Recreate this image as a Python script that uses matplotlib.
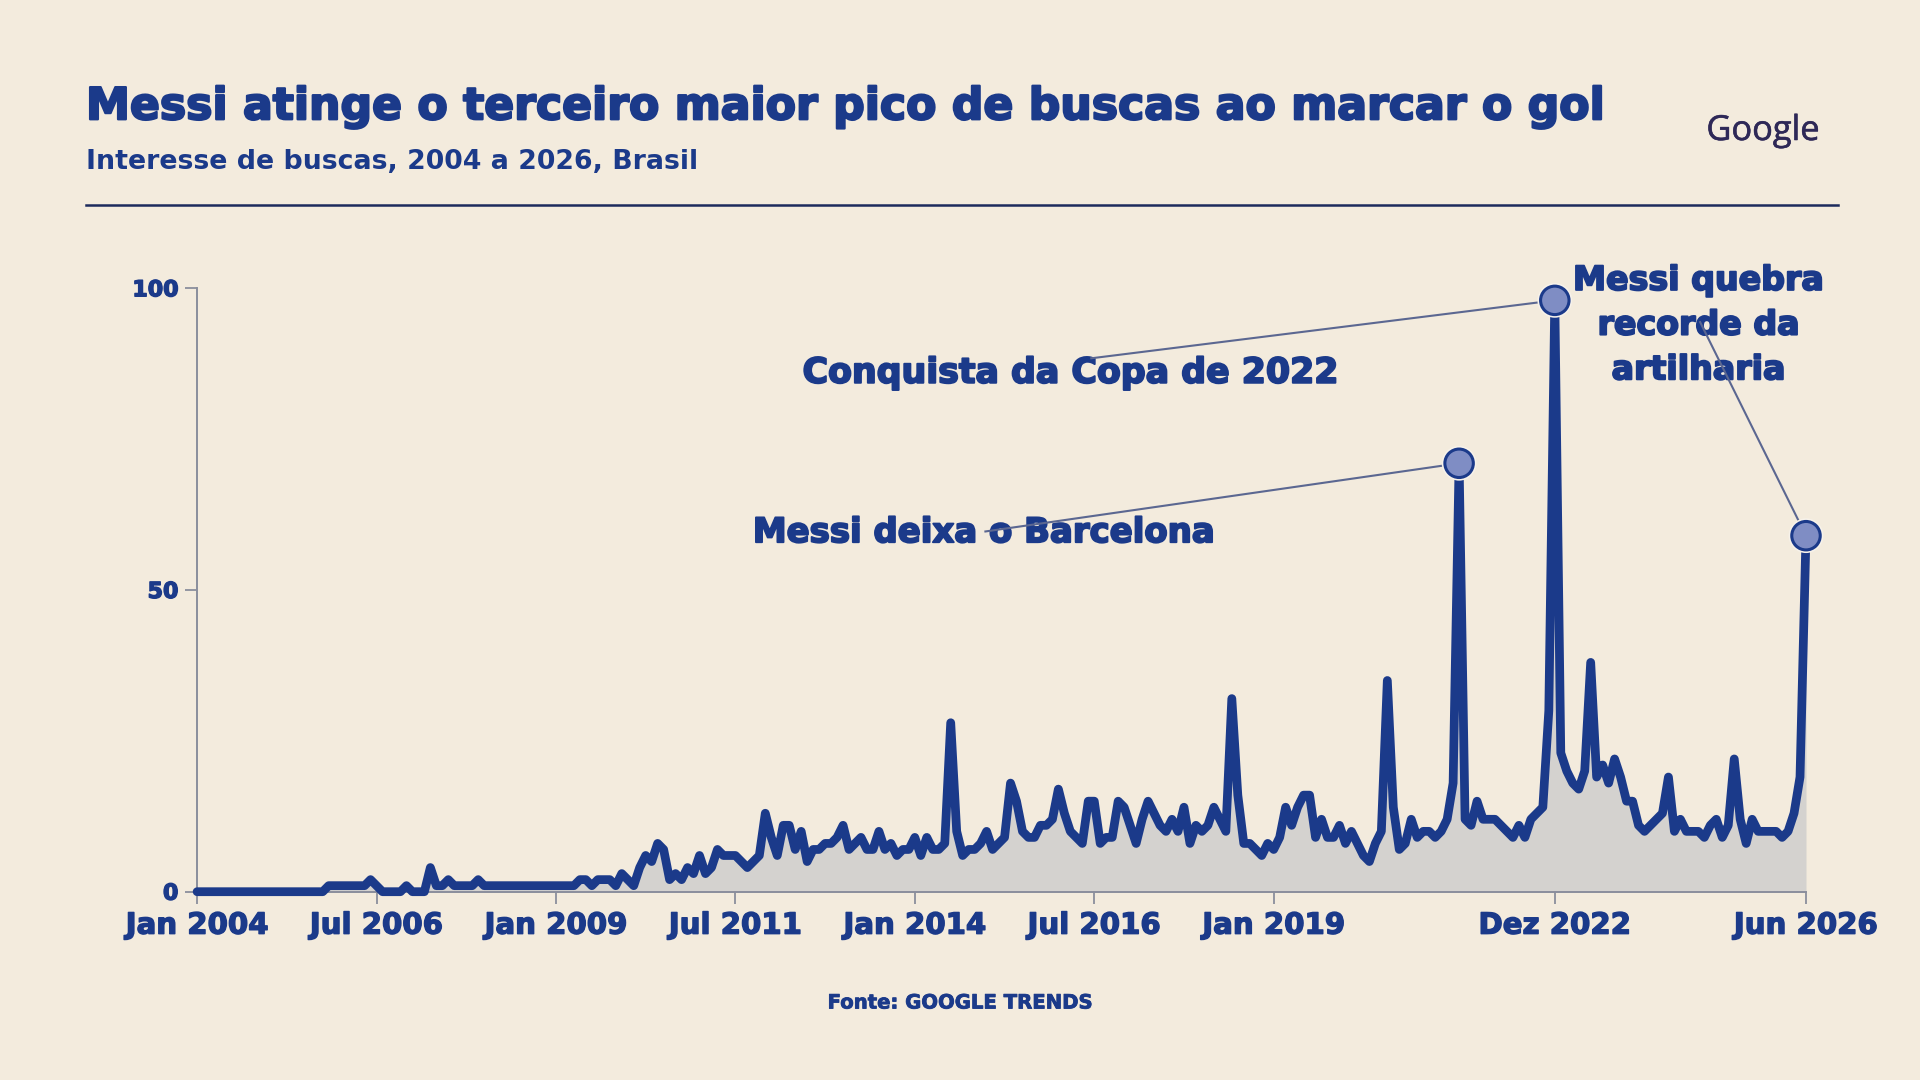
import numpy as np
import matplotlib
matplotlib.use("Agg")
import matplotlib.pyplot as plt
import matplotlib.patheffects as pe

# ---------------- data (monthly Google Trends interest, Brasil) ----------------
v2004 = [0, 0, 0, 0, 0, 0, 0, 0, 0, 0, 0, 0]
v2005 = [0, 0, 0, 0, 0, 0, 0, 0, 0, 0, 1, 1]
v2006 = [1, 1, 1, 1, 1, 2, 1, 0, 0, 0, 0, 1]
v2007 = [0, 0, 0, 4, 1, 1, 2, 1, 1, 1, 1, 2]
v2008 = [1, 1, 1, 1, 1, 1, 1, 1, 1, 1, 1, 1]
v2009 = [1, 1, 1, 1, 2, 2, 1, 2, 2, 2, 1, 3]
v2010 = [2, 1, 4, 6, 5, 8, 7, 2, 3, 2, 4, 3]
v2011 = [6, 3, 4, 7, 6, 6, 6, 5, 4, 5, 6, 13]
v2012 = [9, 6, 11, 11, 7, 10, 5, 7, 7, 8, 8, 9]
v2013 = [11, 7, 8, 9, 7, 7, 10, 7, 8, 6, 7, 7]
v2014 = [9, 6, 9, 7, 7, 8, 28, 10, 6, 7, 7, 8]
v2015 = [10, 7, 8, 9, 18, 15, 10, 9, 9, 11, 11, 12]
v2016 = [17, 13, 10, 9, 8, 15, 15, 8, 9, 9, 15, 14]
v2017 = [11, 8, 12, 15, 13, 11, 10, 12, 10, 14, 8, 11]
v2018 = [10, 11, 14, 12, 10, 32, 16, 8, 8, 7, 6, 8]
v2019 = [7, 9, 14, 11, 14, 16, 16, 9, 12, 9, 9, 11]
v2020 = [8, 10, 8, 6, 5, 8, 10, 35, 14, 7, 8, 12]
v2021 = [9, 10, 10, 9, 10, 12, 18, 71, 12, 11, 15, 12]
v2022 = [12, 12, 11, 10, 9, 11, 9, 12, 13, 14, 30, 98]
v2023 = [23, 20, 18, 17, 20, 38, 19, 21, 18, 22, 19, 15]
v2024 = [15, 11, 10, 11, 12, 13, 19, 10, 12, 10, 10, 10]
v2025 = [9, 11, 12, 9, 11, 22, 12, 8, 12, 10, 10, 10]
v2026 = [10, 9, 10, 13, 19, 59]

values = np.array(v2004 + v2005 + v2006 + v2007 + v2008 + v2009 + v2010 + v2011
                  + v2012 + v2013 + v2014 + v2015 + v2016 + v2017 + v2018 + v2019
                  + v2020 + v2021 + v2022 + v2023 + v2024 + v2025 + v2026, dtype=float)
months = np.arange(len(values))

# x tick labels (year, month)
tick_dates = [(2004, 1), (2006, 7), (2009, 1), (2011, 7), (2014, 1),
              (2016, 7), (2019, 1), (2022, 12), (2026, 6)]
tick_labels = ["Jan 2004", "Jul 2006", "Jan 2009", "Jul 2011", "Jan 2014",
               "Jul 2016", "Jan 2019", "Dez 2022", "Jun 2026"]
y_ticks = [0, 50, 100]

# annotated events (year, month)
event_dates = [(2021, 8), (2022, 12), (2026, 6)]
event_texts = ["Messi deixa o Barcelona", "Conquista da Copa de 2022",
               "Messi quebra\nrecorde da\nartilharia"]

def midx(y, m):
    return (y - 2004) * 12 + (m - 1)

# ---------------- style ----------------
BG = "#f3ebdd"
NAVY = "#1b3a8a"
AXIS = "#8a8e9c"
CONN = "#5b6791"
FILL = "#d4d2cf"
MFACE = "#7f8dc4"
FONT = ["DejaVu Sans"]

def heavy(w):
    return [pe.withStroke(linewidth=w, foreground=NAVY)]

W, H = 1920, 1080
fig = plt.figure(figsize=(W / 100, H / 100), dpi=100, facecolor=BG)
renderer = fig.canvas.get_renderer()

def fit_width(t, target):
    w = t.get_window_extent(renderer=renderer).width
    t.set_fontsize(t.get_fontsize() * target / w)

# header
title = fig.text(86 / W, 1 - 119.3 / H,
                 "Messi atinge o terceiro maior pico de buscas ao marcar o gol",
                 ha="left", va="baseline", color=NAVY, fontsize=30,
                 fontweight="bold", family=FONT, path_effects=heavy(1.6))
fit_width(title, 1516)
sub = fig.text(86 / W, 1 - 169.3 / H, "Interesse de buscas, 2004 a 2026, Brasil",
               ha="left", va="baseline", color=NAVY, fontsize=18,
               fontweight="bold", family=FONT)
fit_width(sub, 612)
goog = fig.text(1763 / W, 1 - 131 / H, "Google", ha="center", va="center",
                color="#2e2857", fontsize=20, fontweight="medium",
                family=["Open Sans", "DejaVu Sans"],
                path_effects=[pe.withStroke(linewidth=0.4, foreground="#2e2857")])
fit_width(goog, 113)
fig.add_artist(plt.Line2D([86 / W, 1838 / W], [1 - 204.5 / H, 1 - 204.5 / H],
                          color="#1c2a5c", lw=1.8))
foot = fig.text(960 / W, 1 - 1003 / H, "Fonte: GOOGLE TRENDS", ha="center",
                va="center", color=NAVY, fontsize=14, fontweight="bold",
                family=FONT, path_effects=heavy(0.6))
fit_width(foot, 266)

# axes
x0, x1 = 197.1, 1806.0
y0, y1 = 891.7, 288.3
ax = fig.add_axes([x0 / W, 1 - y0 / H, (x1 - x0) / W, (y0 - y1) / H])
ax.set_facecolor("none")
ax.set_xlim(0, len(values) - 1)
ax.set_ylim(0, 100)

ax.fill_between(months, 0, values, color=FILL, lw=0, zorder=2, clip_on=False)
ax.plot(months, values, color=NAVY, lw=6.3, solid_joinstyle="round",
        solid_capstyle="round", zorder=3, clip_on=False)

for s in ["top", "right"]:
    ax.spines[s].set_visible(False)
for s in ["left", "bottom"]:
    ax.spines[s].set_color(AXIS)
    ax.spines[s].set_linewidth(1.4)

ax.set_xticks([midx(y, m) for y, m in tick_dates], tick_labels)
ax.set_yticks(y_ticks, [str(v) for v in y_ticks])
ax.tick_params(axis="x", direction="out", length=8.6, width=1.3, color=AXIS,
               pad=5.8, labelcolor=NAVY, labelsize=20)
ax.tick_params(axis="y", direction="out", length=8.6, width=1.3, color=AXIS,
               pad=5, labelcolor=NAVY, labelsize=14)
for lab in ax.get_xticklabels() + ax.get_yticklabels():
    lab.set_fontweight("bold")
    lab.set_family(FONT)
    lab.set_path_effects(heavy(1.0))

fig.canvas.draw()
xl = ax.get_xticklabels()[0]
ax.tick_params(axis="x", labelsize=20 * 143 / xl.get_window_extent(renderer).width)
yl = ax.get_yticklabels()[-1]
ax.tick_params(axis="y", labelsize=14 * 46 / yl.get_window_extent(renderer).width)

# annotations
text_pos = [(131.5, 59.5), (146.0, 86.0), (251.0, 93.9)]
line_start = [(131.8, 59.7), (149.5, 88.4), (251.3, 94.4)]
text_widths = [462, 536, 251]
for (ey, em), txt, tp, ls, tw in zip(event_dates, event_texts, text_pos,
                                     line_start, text_widths):
    i = midx(ey, em)
    t = ax.text(tp[0], tp[1], txt, ha="center", va="center", color=NAVY,
                fontsize=24, fontweight="bold", family=FONT, linespacing=1.45,
                zorder=3.5, clip_on=False, path_effects=heavy(1.4))
    if "\n" in txt:
        probe = ax.text(0, 0, txt.split("\n")[0], fontsize=24, fontweight="bold",
                        family=FONT)
        w = probe.get_window_extent(renderer=renderer).width
        probe.remove()
        t.set_fontsize(24 * tw / w)
    else:
        fit_width(t, tw)
    ax.plot([ls[0], months[i]], [ls[1], values[i]], color=CONN, lw=1.5,
            zorder=4, clip_on=False)
    ax.scatter([months[i]], [values[i]], s=420, facecolor=MFACE,
               edgecolor=NAVY, linewidth=2.2, zorder=5, clip_on=False,
               path_effects=[pe.withStroke(linewidth=4.5, foreground="#f7f2ea")])

fig.savefig("out.png", dpi=100, facecolor=BG)
